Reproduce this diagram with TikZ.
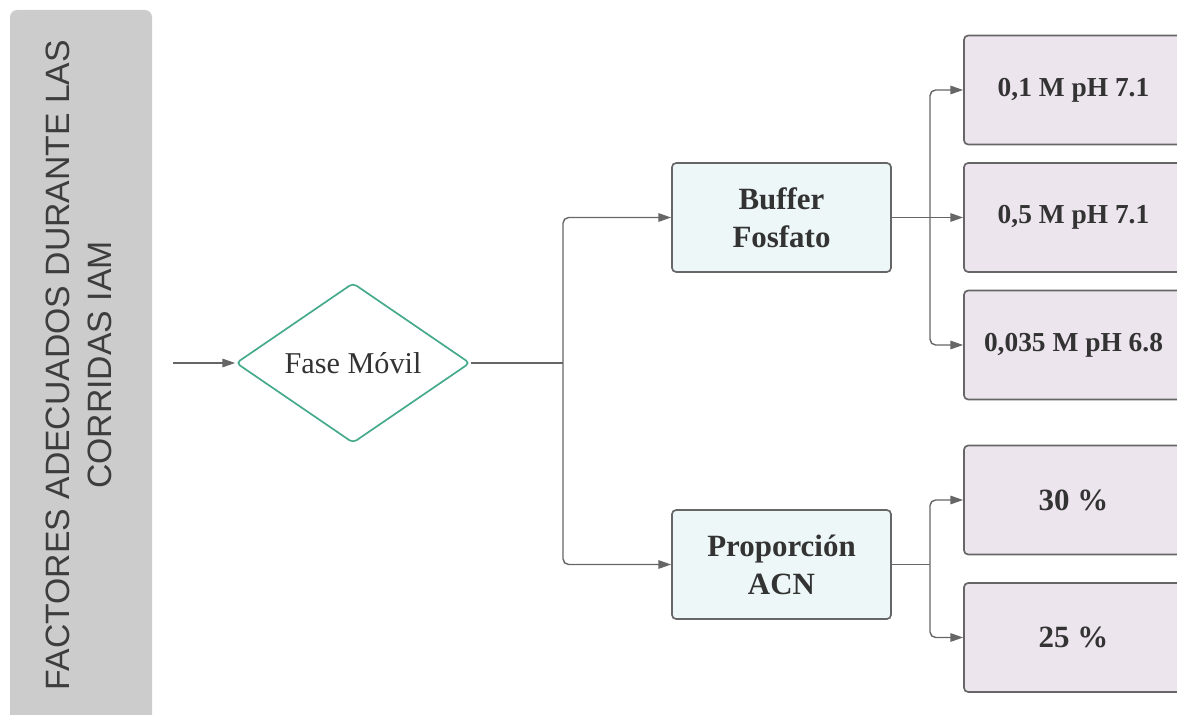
\documentclass[tikz,border=0pt]{standalone}
\usepackage{fontspec}
\setmainfont{Liberation Serif}
\setsansfont{Liberation Sans}
\usetikzlibrary{shapes.geometric, arrows.meta, positioning}
\definecolor{PanelGray}{HTML}{CCCCCC}
\definecolor{TitleGray}{HTML}{3D3D3D}
\definecolor{LineGray}{HTML}{666666}
\definecolor{Teal}{HTML}{45A98C}
\definecolor{PaleCyan}{HTML}{EEF7F7}
\definecolor{PaleLilac}{HTML}{EDE5EE}
\definecolor{TextGray}{HTML}{333333}

\begin{document}
\begin{tikzpicture}[x=0.025cm, y=-0.025cm, align=center,
  conn/.style={LineGray, line width=1pt, rounded corners=4pt},
  arr/.style={conn, -{Triangle[length=9pt, width=6pt]}},
  factor/.style={draw=LineGray, line width=1.2pt, fill=PaleCyan, rounded corners=3pt, minimum width=5.475cm, minimum height=2.725cm, text=TextGray, font=\fontsize{22}{27}\selectfont\bfseries},
  level/.style={factor, fill=PaleLilac, font=\fontsize{19.5}{23}\selectfont\bfseries},
  share/.style={level, font=\fontsize{22}{27}\selectfont\bfseries}]
  \useasboundingbox (0,0) rectangle (1177,715);
  \clip (0,0) rectangle (1177,715);

  % side panel
  \fill[PanelGray, rounded corners=5pt] (10,10) rectangle (152,740);
  \node (title) [rotate=90, text=TitleGray, font=\sffamily\fontsize{24}{30}\selectfont] at (79,365) {FACTORES ADECUADOS DURANTE LAS\\CORRIDAS IAM};

  \node (fase) [diamond, draw=Teal, line width=1.2pt, fill=white, rounded corners=3pt, inner sep=0pt, minimum width=5.85cm, minimum height=4cm, aspect=1.46, text=TextGray, font=\fontsize{21.5}{25}\selectfont] at (353,363) {Fase Móvil};
  \coordinate (in) at (173,363);

  \node (buffer) [factor] at (781.5,217.5) {Buffer\\Fosfato};
  \node (acn) [factor] at (781.5,564.5) {Proporción\\ACN};

  \node (m1) [level] at (1073.5,90) {0,1 M pH 7.1};
  \node (m2) [level] at (1073.5,217.5) {0,5 M pH 7.1};
  \node (m3) [level] at (1073.5,345) {0,035 M pH 6.8};
  \node (p30) [share] at (1073.5,500) {30 \%};
  \node (p25) [share] at (1073.5,637.5) {25 \%};

  \coordinate (j1) at (563,363);
  \coordinate (j2) at (930,217.5);
  \coordinate (j3) at (930,564.5);

  \draw[arr] (in) -- (fase);
  \draw[conn] (fase) -- (j1);
  \draw[arr] (j1) |- (buffer);
  \draw[arr] (j1) |- (acn);

  \draw[conn] (buffer) -- (j2);
  \draw[arr] (j2) |- (m1);
  \draw[arr] (j2) -- (m2);
  \draw[arr] (j2) |- (m3);

  \draw[conn] (acn) -- (j3);
  \draw[arr] (j3) |- (p30);
  \draw[arr] (j3) |- (p25);
\end{tikzpicture}
\end{document}
